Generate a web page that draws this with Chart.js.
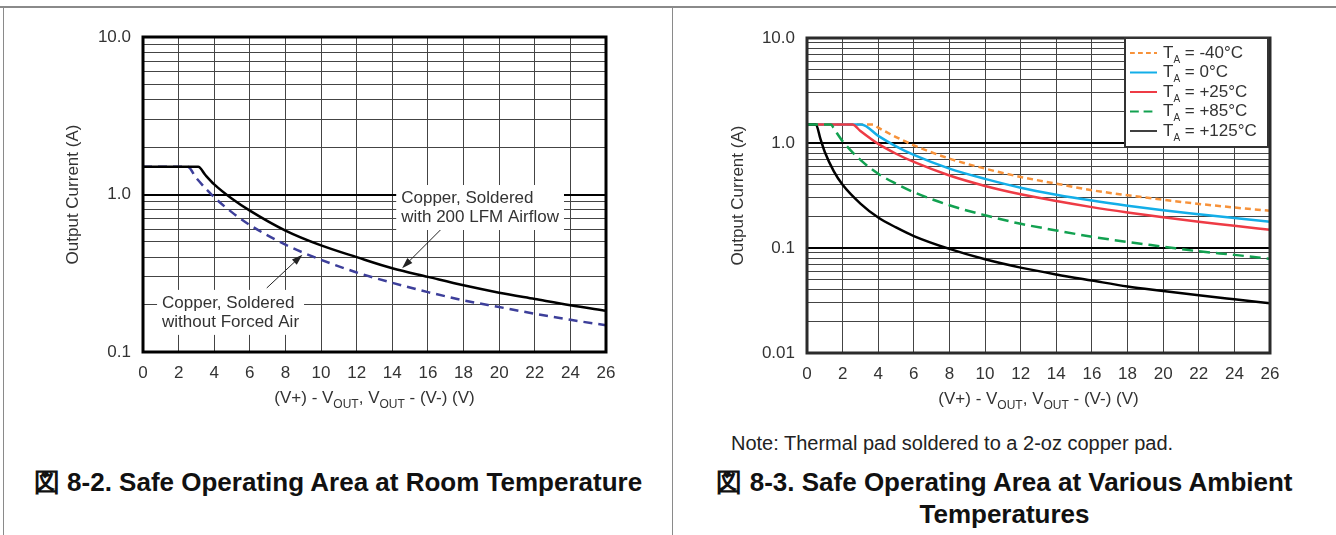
<!DOCTYPE html>
<html>
<head>
<meta charset="utf-8">
<script src="https://cdn.jsdelivr.net/npm/chart.js@4.4.0/dist/chart.umd.min.js"></script>
<style>
  body { margin: 0; background: #fff; font-family: "Liberation Sans", Arial, sans-serif; }
  #page { position: relative; width: 1336px; height: 535px; overflow: hidden; background: #fff; }
  .hline { position: absolute; left: 0; top: 6px; width: 1336px; height: 2px; background: #8a8a8a; }
  .vline { position: absolute; top: 7px; width: 1px; height: 530px; background: #8a8a8a; }
  .box { position: absolute; top: 0; height: 430px; }
  .caption { position: absolute; font-weight: bold; font-size: 26px; color: #111; text-align: center; line-height: 32px; white-space: nowrap; }
  .note { position: absolute; left: 731px; top: 432px; font-size: 20px; line-height: 22px; color: #222; white-space: nowrap; }
</style>
</head>
<body>
<div id="page">
  <div class="hline"></div>
  <div class="vline" style="left:3px"></div>
  <div class="vline" style="left:672px"></div>
  <div class="box" style="left:0;width:672px"><canvas id="soaRoom"></canvas></div>
  <div class="box" style="left:672px;width:664px"><canvas id="soaAmbient"></canvas></div>
  <div class="note">Note: Thermal pad soldered to a 2-oz copper pad.</div>
  <div class="caption" style="left:4px;width:668px;top:466px">図 8-2. Safe Operating Area at Room Temperature</div>
  <div class="caption" style="left:673px;width:663px;top:466px">図 8-3. Safe Operating Area at Various Ambient<br>Temperatures</div>
</div>
<script>
// x ticks (V)
const xMin = 0;
const xMax = 26;
const xStep = 2;

// y decades and their labels
const roomYMajor = [0.1, 1, 10];
const roomYLabels = ['0.1', '1.0', '10.0'];
const ambientYMajor = [0.01, 0.1, 1, 10];
const ambientYLabels = ['0.01', '0.1', '1.0', '10.0'];

// Fig 8-2 curves
const airflowX = [0, 3.1, 3.5, 4, 5, 6, 8, 10, 12, 14, 16, 18, 20, 22, 24, 26];
const airflowY = [1.5, 1.5, 1.33, 1.16, 0.94, 0.79, 0.59, 0.475, 0.40, 0.34, 0.30, 0.265, 0.238, 0.217, 0.198, 0.183];
const stillAirX = [0, 2.5, 3, 4, 5, 6, 8, 10, 12, 14, 16, 18, 20, 22, 24, 26];
const stillAirY = [1.5, 1.5, 1.27, 0.96, 0.77, 0.64, 0.48, 0.385, 0.32, 0.275, 0.24, 0.213, 0.193, 0.175, 0.16, 0.148];

// Fig 8-3 curves
const ambientLabels = ['-40°C', '0°C', '+25°C', '+85°C', '+125°C'];
const tm40X = [0, 3.7, 4, 5, 6, 8, 10, 12, 14, 16, 18, 20, 22, 24, 26];
const tm40Y = [1.5, 1.5, 1.4, 1.14, 0.95, 0.71, 0.57, 0.475, 0.41, 0.355, 0.318, 0.288, 0.263, 0.243, 0.226];
const t0X = [0, 3.05, 4, 5, 6, 8, 10, 12, 14, 16, 18, 20, 22, 24, 26];
const t0Y = [1.5, 1.5, 1.17, 0.93, 0.77, 0.57, 0.455, 0.375, 0.322, 0.283, 0.253, 0.229, 0.21, 0.193, 0.178];
const t25X = [0, 2.55, 3, 4, 5, 6, 8, 10, 12, 14, 16, 18, 20, 22, 24, 26];
const t25Y = [1.5, 1.5, 1.3, 0.98, 0.79, 0.66, 0.49, 0.39, 0.325, 0.28, 0.245, 0.218, 0.196, 0.178, 0.163, 0.149];
const t85X = [0, 1.35, 1.5, 2, 3, 4, 5, 6, 8, 10, 12, 14, 16, 18, 20, 22, 24, 26];
const t85Y = [1.5, 1.5, 1.38, 1.04, 0.69, 0.51, 0.41, 0.34, 0.255, 0.205, 0.17, 0.147, 0.128, 0.114, 0.103, 0.093, 0.086, 0.079];
const t125X = [0, 0.5, 0.75, 1, 1.5, 2, 3, 4, 5, 6, 8, 10, 12, 14, 16, 18, 20, 22, 24, 26];
const t125Y = [1.5, 1.5, 1.1, 0.82, 0.54, 0.4, 0.265, 0.195, 0.157, 0.13, 0.098, 0.078, 0.065, 0.056, 0.049, 0.043, 0.039, 0.0355, 0.0325, 0.0298];

const FONT = '"Liberation Sans", Arial, sans-serif';
const TEXT = '#333';
const FS = 17;

function pts(xs, ys) {
  return xs.map((x, i) => ({ x: x, y: ys[i] }));
}

function isDecade(v) {
  const l = Math.log10(v);
  return Math.abs(l - Math.round(l)) < 1e-9;
}

// grid ticks: decades plus 2..9 in each decade
function logTicks(majors) {
  const out = [];
  majors.forEach((m, i) => {
    out.push(m);
    if (i < majors.length - 1) {
      for (let k = 2; k <= 9; k++) out.push(+(m * k).toPrecision(6));
    }
  });
  return out;
}

function lineDs(xs, ys, color, dash, order) {
  return {
    data: pts(xs, ys),
    borderColor: color,
    borderWidth: 2.5,
    borderDash: dash || [],
    pointRadius: 0,
    fill: false,
    cubicInterpolationMode: 'monotone',
    order: order || 0
  };
}

// thick frame round the plot
const framePlugin = {
  id: 'frame',
  afterDatasetsDraw(chart, args, opts) {
    const { ctx, chartArea: a } = chart;
    ctx.save();
    ctx.strokeStyle = opts.color || '#000';
    ctx.lineWidth = opts.width || 3;
    ctx.strokeRect(a.left, a.top, a.right - a.left, a.bottom - a.top);
    ctx.restore();
  }
};

// x axis title with OUT subscripts
const xTitlePlugin = {
  id: 'xTitle',
  afterDraw(chart) {
    const { ctx, chartArea: a } = chart;
    const parts = [['(V+) - V', 0], ['OUT', 1], [', V', 0], ['OUT', 1], [' - (V-) (V)', 0]];
    const big = FS + 'px ' + FONT, small = '12px ' + FONT;
    ctx.save();
    let w = 0;
    parts.forEach(p => { ctx.font = p[1] ? small : big; w += ctx.measureText(p[0]).width; });
    let x = (a.left + a.right) / 2 - w / 2;
    const y = a.bottom + 51;
    ctx.fillStyle = TEXT;
    ctx.textBaseline = 'alphabetic';
    parts.forEach(p => {
      ctx.font = p[1] ? small : big;
      ctx.fillText(p[0], x, y + (p[1] ? 5 : 0));
      x += ctx.measureText(p[0]).width;
    });
    ctx.restore();
  }
};

function baseOptions(majors, labels, yAxisW, titlePad, padRight, padTop, xAxisH) {
  const ticks = logTicks(majors);
  return {
    responsive: false,
    animation: false,
    layout: { padding: { left: 0, right: padRight, top: padTop, bottom: 0 } },
    plugins: { legend: { display: false }, tooltip: { enabled: false } },
    scales: {
      x: {
        type: 'linear',
        min: xMin,
        max: xMax,
        ticks: { stepSize: xStep, padding: 11, color: TEXT, font: { family: FONT, size: FS }, maxRotation: 0 },
        grid: { color: '#444', lineWidth: 1, drawTicks: false },
        border: { display: false },
        afterFit(s) { s.height = xAxisH; }
      },
      y: {
        type: 'logarithmic',
        min: majors[0],
        max: majors[majors.length - 1],
        afterBuildTicks(s) { s.ticks = ticks.map(v => ({ value: v })); },
        ticks: {
          autoSkip: false,
          padding: 12,
          color: TEXT,
          font: { family: FONT, size: FS },
          callback(v) {
            const i = majors.findIndex(m => Math.abs(m - v) < m * 1e-6);
            return i >= 0 ? labels[i] : '';
          }
        },
        grid: {
          drawTicks: false,
          color: c => (c.tick && isDecade(c.tick.value)) ? '#000' : '#444',
          lineWidth: c => (c.tick && isDecade(c.tick.value)) ? 2 : 1
        },
        border: { display: false },
        title: { display: true, text: 'Output Current (A)', color: TEXT, font: { family: FONT, size: FS }, padding: { top: titlePad, bottom: 0 } },
        afterFit(s) { s.width = yAxisW; }
      }
    }
  };
}

// ---------- Fig 8-2 ----------
const roomNotes = [
  { lines: ['Copper, Soldered', 'with 200 LFM Airflow'], x: 14.5, y: 0.95, from: [16.7, 0.595], to: [14.55, 0.34] },
  { lines: ['Copper, Soldered', 'without Forced Air'], x: 1.07, y: 0.205, from: [6.95, 0.255], to: [8.95, 0.415] }
];

const notePlugin = {
  id: 'notes',
  afterDatasetsDraw(chart) {
    const { ctx, scales: { x, y } } = chart;
    ctx.save();
    ctx.font = FS + 'px ' + FONT;
    roomNotes.forEach(n => {
      const tx = x.getPixelForValue(n.x);
      const ty = y.getPixelForValue(n.y);
      const w = Math.max(...n.lines.map(l => ctx.measureText(l).width));
      ctx.fillStyle = '#fff';
      ctx.fillRect(tx - 5, ty - 13, w + 10, 19 * n.lines.length + 7);
      ctx.fillStyle = TEXT;
      ctx.textBaseline = 'middle';
      n.lines.forEach((l, i) => ctx.fillText(l, tx, ty + i * 19));
      // arrow
      const x0 = x.getPixelForValue(n.from[0]), y0 = y.getPixelForValue(n.from[1]);
      const x1 = x.getPixelForValue(n.to[0]), y1 = y.getPixelForValue(n.to[1]);
      const ang = Math.atan2(y1 - y0, x1 - x0);
      ctx.strokeStyle = '#222';
      ctx.lineWidth = 1;
      ctx.beginPath();
      ctx.moveTo(x0, y0);
      ctx.lineTo(x1 - 8 * Math.cos(ang), y1 - 8 * Math.sin(ang));
      ctx.stroke();
      ctx.fillStyle = '#222';
      ctx.beginPath();
      ctx.moveTo(x1, y1);
      ctx.lineTo(x1 - 11 * Math.cos(ang) + 3.5 * Math.sin(ang), y1 - 11 * Math.sin(ang) - 3.5 * Math.cos(ang));
      ctx.lineTo(x1 - 11 * Math.cos(ang) - 3.5 * Math.sin(ang), y1 - 11 * Math.sin(ang) + 3.5 * Math.cos(ang));
      ctx.closePath();
      ctx.fill();
    });
    ctx.restore();
  }
};

const c1 = document.getElementById('soaRoom');
c1.width = 672; c1.height = 430;
const opt1 = baseOptions(roomYMajor, roomYLabels, 143, 63, 66, 37, 430 - 352);
opt1.plugins.frame = { color: '#000', width: 3 };
new Chart(c1.getContext('2d'), {
  type: 'line',
  data: {
    datasets: [
      lineDs(airflowX, airflowY, '#000', [], 0),
      lineDs(stillAirX, stillAirY, '#3d3f9a', [9, 6], 1)
    ]
  },
  options: opt1,
  plugins: [notePlugin, framePlugin, xTitlePlugin]
});

// ---------- Fig 8-3 ----------
const ambientStyles = [
  { color: '#f7923a', dash: [6, 4] },
  { color: '#13aee8', dash: [] },
  { color: '#ee3b45', dash: [] },
  { color: '#12a150', dash: [11, 6] },
  { color: '#000', dash: [] }
];

const legendPlugin = {
  id: 'taLegend',
  afterDraw(chart) {
    const { ctx, chartArea: a } = chart;
    const bw = 143, bh = 109;
    const bx = a.right - bw - 2, by = a.top;
    ctx.save();
    ctx.fillStyle = '#fff';
    ctx.fillRect(bx, by, bw, bh);
    ctx.strokeStyle = '#333';
    ctx.lineWidth = 2;
    ctx.strokeRect(bx, by, bw, bh);
    ambientLabels.forEach((lab, i) => {
      const yy = by + 15 + i * 19.5;
      const st = ambientStyles[i];
      ctx.strokeStyle = st.color;
      ctx.lineWidth = i === 4 ? 1.5 : 2;
      ctx.setLineDash(st.dash.map(d => d * 0.8));
      ctx.beginPath();
      ctx.moveTo(bx + 5, yy);
      ctx.lineTo(bx + 32, yy);
      ctx.stroke();
      ctx.setLineDash([]);
      ctx.fillStyle = TEXT;
      ctx.textBaseline = 'middle';
      ctx.font = FS + 'px ' + FONT;
      let tx = bx + 38;
      ctx.fillText('T', tx, yy);
      tx += ctx.measureText('T').width;
      ctx.font = '10px ' + FONT;
      ctx.fillText('A', tx, yy + 7);
      tx += ctx.measureText('A').width;
      ctx.font = FS + 'px ' + FONT;
      ctx.fillText(' = ' + lab, tx, yy);
    });
    ctx.restore();
  }
};

const c2 = document.getElementById('soaAmbient');
c2.width = 664; c2.height = 430;
const opt2 = baseOptions(ambientYMajor, ambientYLabels, 135, 56, 66, 38, 430 - 353);
opt2.plugins.frame = { color: '#2b2b2b', width: 3 };
new Chart(c2.getContext('2d'), {
  type: 'line',
  data: {
    datasets: [
      Object.assign(lineDs(tm40X, tm40Y, ambientStyles[0].color, ambientStyles[0].dash, 4), { label: ambientLabels[0] }),
      Object.assign(lineDs(t0X, t0Y, ambientStyles[1].color, ambientStyles[1].dash, 3), { label: ambientLabels[1] }),
      Object.assign(lineDs(t25X, t25Y, ambientStyles[2].color, ambientStyles[2].dash, 2), { label: ambientLabels[2] }),
      Object.assign(lineDs(t85X, t85Y, ambientStyles[3].color, ambientStyles[3].dash, 0), { label: ambientLabels[3] }),
      Object.assign(lineDs(t125X, t125Y, ambientStyles[4].color, ambientStyles[4].dash, 1), { label: ambientLabels[4] })
    ]
  },
  options: opt2,
  plugins: [framePlugin, legendPlugin, xTitlePlugin]
});
</script>
</body>
</html>
